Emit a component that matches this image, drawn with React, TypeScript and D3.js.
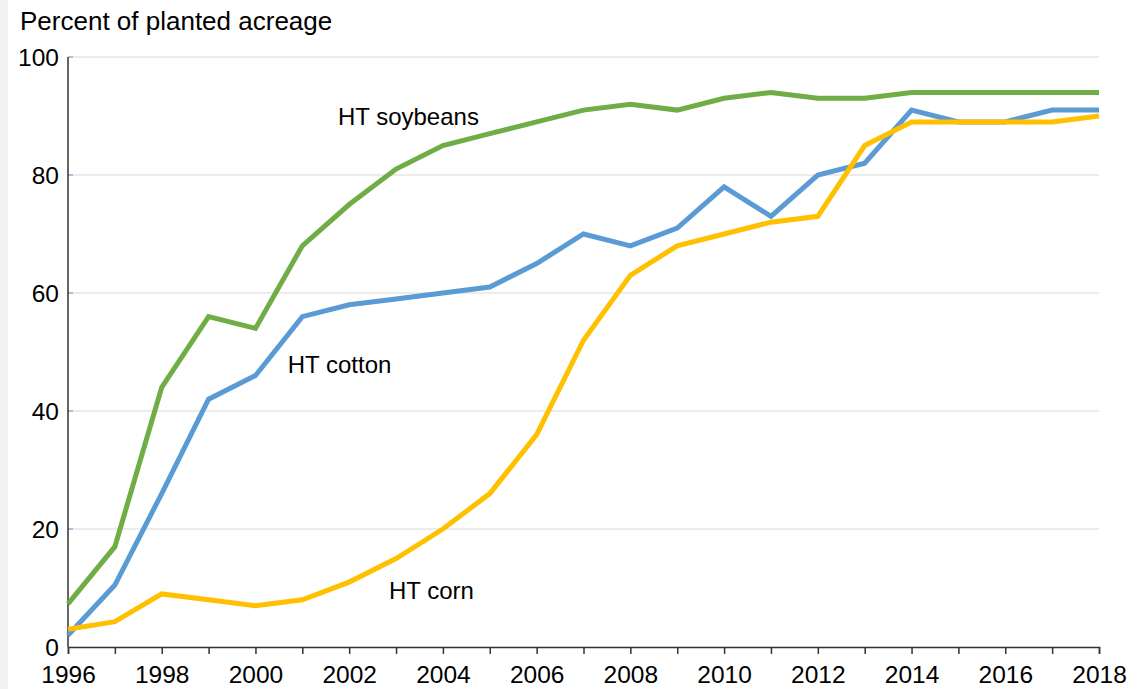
import { useRef, useEffect } from "react";
import * as d3 from "d3";

const years = [1996, 1997, 1998, 1999, 2000, 2001, 2002, 2003, 2004, 2005, 2006, 2007, 2008, 2009, 2010, 2011, 2012, 2013, 2014, 2015, 2016, 2017, 2018];
const soybeans = [7.3, 17, 44, 56, 54, 68, 75, 81, 85, 87, 89, 91, 92, 91, 93, 94, 93, 93, 94, 94, 94, 94, 94];
const cotton = [2, 10.5, 26, 42, 46, 56, 58, 59, 60, 61, 65, 70, 68, 71, 78, 73, 80, 82, 91, 89, 89, 91, 91];
const corn = [3, 4.3, 9, 8, 7, 8, 11, 15, 20, 26, 36, 52, 63, 68, 70, 72, 73, 85, 89, 89, 89, 89, 90];
const yTicks = [0, 20, 40, 60, 80, 100];
const xTicks = [1996, 1998, 2000, 2002, 2004, 2006, 2008, 2010, 2012, 2014, 2016, 2018];

// label anchors in data units (year, percent at baseline)
const series = [
  { name: "HT soybeans", values: soybeans, color: "#70ad47", label: [2001.76, 88.4] },
  { name: "HT cotton", values: cotton, color: "#5b9bd5", label: [2000.69, 46.4] },
  { name: "HT corn", values: corn, color: "#ffc000", label: [2002.85, 8.1] },
];

export default function App() {
  const svgRef = useRef(null);
  const width = 1145;
  const height = 689;

  useEffect(() => {
    const svg = d3.select(svgRef.current);
    svg.selectAll("*").remove();
    const font = "'Liberation Sans', Arial, Helvetica, sans-serif";

    const x = d3.scaleLinear().domain([1996, 2018]).range([68, 1099]);
    const y = d3.scaleLinear().domain([0, 100]).range([647, 57]);

    svg.append("rect").attr("width", width).attr("height", height).attr("fill", "#fff");
    svg.append("rect").attr("width", 8).attr("height", height).attr("fill", "#f2f2f2");

    // gridlines
    svg
      .append("g")
      .selectAll("line")
      .data(yTicks.filter((d) => d > 0))
      .join("line")
      .attr("x1", x(1996))
      .attr("x2", x(2018))
      .attr("y1", (d) => y(d))
      .attr("y2", (d) => y(d))
      .attr("stroke", "#d9d9d9")
      .attr("stroke-width", 1);

    // small y ticks
    svg
      .append("g")
      .selectAll("line")
      .data(yTicks.filter((d) => d > 0))
      .join("line")
      .attr("x1", x(1996))
      .attr("x2", x(1996) + 5)
      .attr("y1", (d) => y(d))
      .attr("y2", (d) => y(d))
      .attr("stroke", "#8db4e2")
      .attr("stroke-width", 1.5);

    // y axis line
    svg
      .append("line")
      .attr("x1", x(1996))
      .attr("x2", x(1996))
      .attr("y1", y(100))
      .attr("y2", y(0))
      .attr("stroke", "#333")
      .attr("stroke-width", 1.5);

    // y labels
    svg
      .append("g")
      .selectAll("text")
      .data(yTicks)
      .join("text")
      .attr("x", 59)
      .attr("y", (d) => y(d) + 8.5)
      .attr("text-anchor", "end")
      .attr("font-family", font)
      .attr("font-size", 24.5)
      .attr("fill", "#000")
      .text((d) => d);

    // x axis
    const xAxis = svg
      .append("g")
      .attr("transform", `translate(0,${y(0)})`)
      .call(
        d3
          .axisBottom(x)
          .tickValues(years)
          .tickSize(7)
          .tickFormat((d: any) => (xTicks.includes(d) ? String(d) : ""))
      );
    xAxis.select(".domain").attr("stroke", "#333").attr("stroke-width", 1.5);
    xAxis.selectAll(".tick line").attr("stroke", "#333").attr("stroke-width", 1.5);
    xAxis
      .selectAll(".tick text")
      .attr("font-family", font)
      .attr("font-size", 24.5)
      .attr("fill", "#000")
      .attr("dy", 0)
      .attr("y", 36);

    // lines
    const line = d3
      .line<number>()
      .x((_, i) => x(years[i]))
      .y((d) => y(d));

    series.forEach((s) => {
      svg
        .append("path")
        .datum(s.values)
        .attr("d", line)
        .attr("fill", "none")
        .attr("stroke", s.color)
        .attr("stroke-width", 5)
        .attr("stroke-linejoin", "miter");
    });

    // series labels
    series.forEach((s) => {
      svg
        .append("text")
        .attr("x", x(s.label[0]))
        .attr("y", y(s.label[1]))
        .attr("font-family", font)
        .attr("font-size", 24)
        .attr("fill", "#000")
        .text(s.name);
    });

    // title
    svg
      .append("text")
      .attr("x", 20)
      .attr("y", 30)
      .attr("font-family", font)
      .attr("font-size", 26)
      .attr("fill", "#000")
      .text("Percent of planted acreage");
  }, []);

  return (
    <div style={{ position: "absolute", left: 0, top: 0 }}>
      <svg ref={svgRef} width={width} height={height} style={{ display: "block" }} />
    </div>
  );
}
